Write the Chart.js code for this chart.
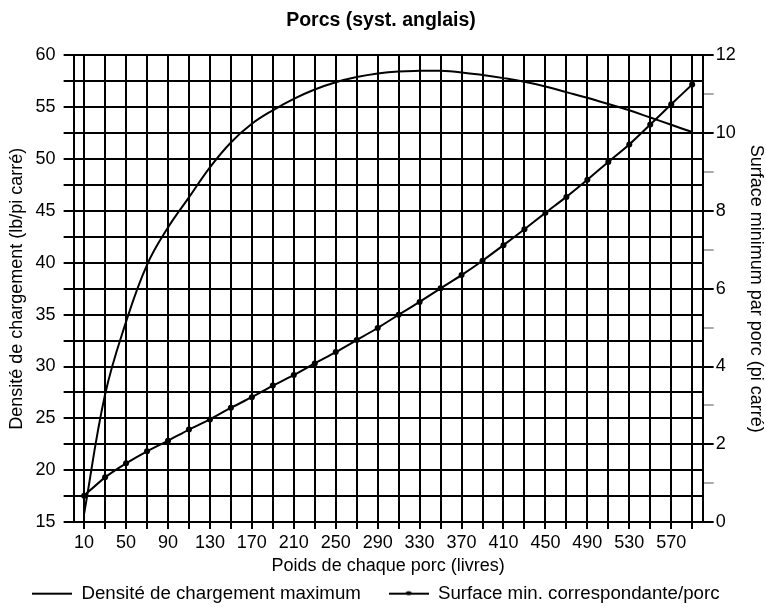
<!DOCTYPE html>
<html>
<head>
<meta charset="utf-8">
<script src="https://cdn.jsdelivr.net/npm/chart.js@4.4.1/dist/chart.umd.min.js"></script>
<style>
  body { margin: 0; background: #fff; }
  #porcChart { display: block; }
</style>
</head>
<body>
<canvas id="porcChart" width="766" height="607"></canvas>
<script>
// Poids (livres)
const poids = [10, 30, 50, 70, 90, 110, 130, 150, 170, 190,
               210, 230, 250, 270, 290, 310, 330, 350, 370, 390,
               410, 430, 450, 470, 490, 510, 530, 550, 570, 590];

// Densité de chargement maximum (lb/pi carré) - axe gauche
const densite = [15.8, 27.3, 34.3, 39.8, 43.4, 46.3, 49.2, 51.6, 53.4, 54.7,
                 55.8, 56.7, 57.4, 57.9, 58.25, 58.45, 58.5, 58.5, 58.35, 58.1,
                 57.8, 57.45, 57.0, 56.45, 55.9, 55.3, 54.7, 54.0, 53.3, 52.6];

// Surface min. correspondante/porc (pi carré) - axe droit
const surface = [0.68, 1.15, 1.51, 1.82, 2.09, 2.38, 2.64, 2.94, 3.21, 3.51,
                 3.78, 4.08, 4.37, 4.68, 4.99, 5.33, 5.66, 6.01, 6.35, 6.72,
                 7.12, 7.53, 7.95, 8.36, 8.80, 9.26, 9.71, 10.22, 10.74, 11.25];

Chart.defaults.font.family = '"Liberation Sans", Arial, sans-serif';
Chart.defaults.color = '#000';

// petites images pour la légende (trait, trait + point)
function legendMark(withDot) {
    const c = document.createElement('canvas');
    c.width = 40;
    c.height = 10;
    const g = c.getContext('2d');
    g.strokeStyle = '#000';
    g.fillStyle = '#000';
    g.lineWidth = 2;
    g.beginPath();
    g.moveTo(0, 5);
    g.lineTo(40, 5);
    g.stroke();
    if (withDot) {
        g.beginPath();
        g.ellipse(20, 4.5, 3, 2, 0, 0, 2 * Math.PI);
        g.fill();
    }
    return c;
}
const marks = [legendMark(false), legendMark(true)];
const legendGap = ['    ', '  '];

const ctx = document.getElementById('porcChart').getContext('2d');
const porcChart = new Chart(ctx, {
    type: 'line',
    data: {
        labels: poids,
        datasets: [{
            label: 'Densité de chargement maximum',
            data: densite,
            yAxisID: 'y',
            borderColor: '#000',
            borderWidth: 2,
            pointRadius: 0,
            tension: 0.4
        }, {
            label: 'Surface min. correspondante/porc',
            data: surface,
            yAxisID: 'y1',
            borderColor: '#000',
            backgroundColor: '#000',
            borderWidth: 2,
            pointRadius: 3,
            pointBorderWidth: 0,
            tension: 0.2
        }]
    },
    options: {
        responsive: false,
        animation: false,
        layout: {
            padding: { left: -4, right: 0, top: 0, bottom: -6 }
        },
        plugins: {
            title: {
                display: true,
                text: 'Porcs (syst. anglais)',
                color: '#000',
                font: { size: 19.5, weight: 'bold' },
                padding: { top: 9.3, bottom: 22.6 }
            },
            legend: {
                position: 'bottom',
                labels: {
                    color: '#000',
                    font: { size: 18.7 },
                    usePointStyle: true,
                    pointStyleWidth: 40,
                    boxWidth: 40,
                    boxHeight: 10,
                    padding: 7,
                    generateLabels: (chart) => chart.data.datasets.map((ds, i) => ({
                        text: ds.label + legendGap[i],
                        pointStyle: marks[i],
                        fillStyle: '#000',
                        strokeStyle: '#000',
                        lineWidth: 0,
                        fontColor: '#000',
                        hidden: false,
                        datasetIndex: i
                    }))
                }
            },
            tooltip: { enabled: false }
        },
        scales: {
            x: {
                offset: true,
                grid: { offset: false, color: '#000', lineWidth: 2, tickLength: 7, tickColor: '#000' },
                border: { color: '#000', width: 2 },
                ticks: {
                    autoSkip: false,
                    maxRotation: 0,
                    padding: 3,
                    font: { size: 18 },
                    callback: (v, i) => (i % 2 === 0 ? poids[i] : '')
                },
                title: {
                    display: true,
                    text: 'Poids de chaque porc (livres)',
                    font: { size: 18 },
                    padding: { top: -1, bottom: 0 }
                }
            },
            y: {
                position: 'left',
                min: 15,
                max: 60,
                grid: { color: '#000', lineWidth: 2, tickLength: 10, tickColor: '#000' },
                border: { color: '#000', width: 2 },
                ticks: {
                    stepSize: 2.5,
                    padding: 8,
                    font: { size: 18 },
                    callback: (v) => (Math.abs(v % 5) < 1e-6 ? v : '')
                },
                title: {
                    display: true,
                    text: 'Densité de chargement (lb/pi carré)',
                    font: { size: 18 },
                    padding: { top: 10, bottom: 0 }
                }
            },
            y1: {
                position: 'right',
                min: 0,
                max: 12,
                grid: {
                    drawOnChartArea: false,
                    tickLength: 11,
                    lineWidth: 2,
                    tickColor: (c) => (c.tick && c.tick.value % 2 ? '#aaa' : '#000')
                },
                border: { color: '#000', width: 2 },
                ticks: {
                    stepSize: 1,
                    padding: 2,
                    font: { size: 18 },
                    callback: (v) => (v % 2 === 0 ? v : '')
                },
                title: {
                    display: true,
                    text: 'Surface minimum par porc (pi carré)',
                    font: { size: 18 },
                    padding: { top: -1, bottom: 7.7 }
                }
            }
        }
    }
});
</script>
</body>
</html>
